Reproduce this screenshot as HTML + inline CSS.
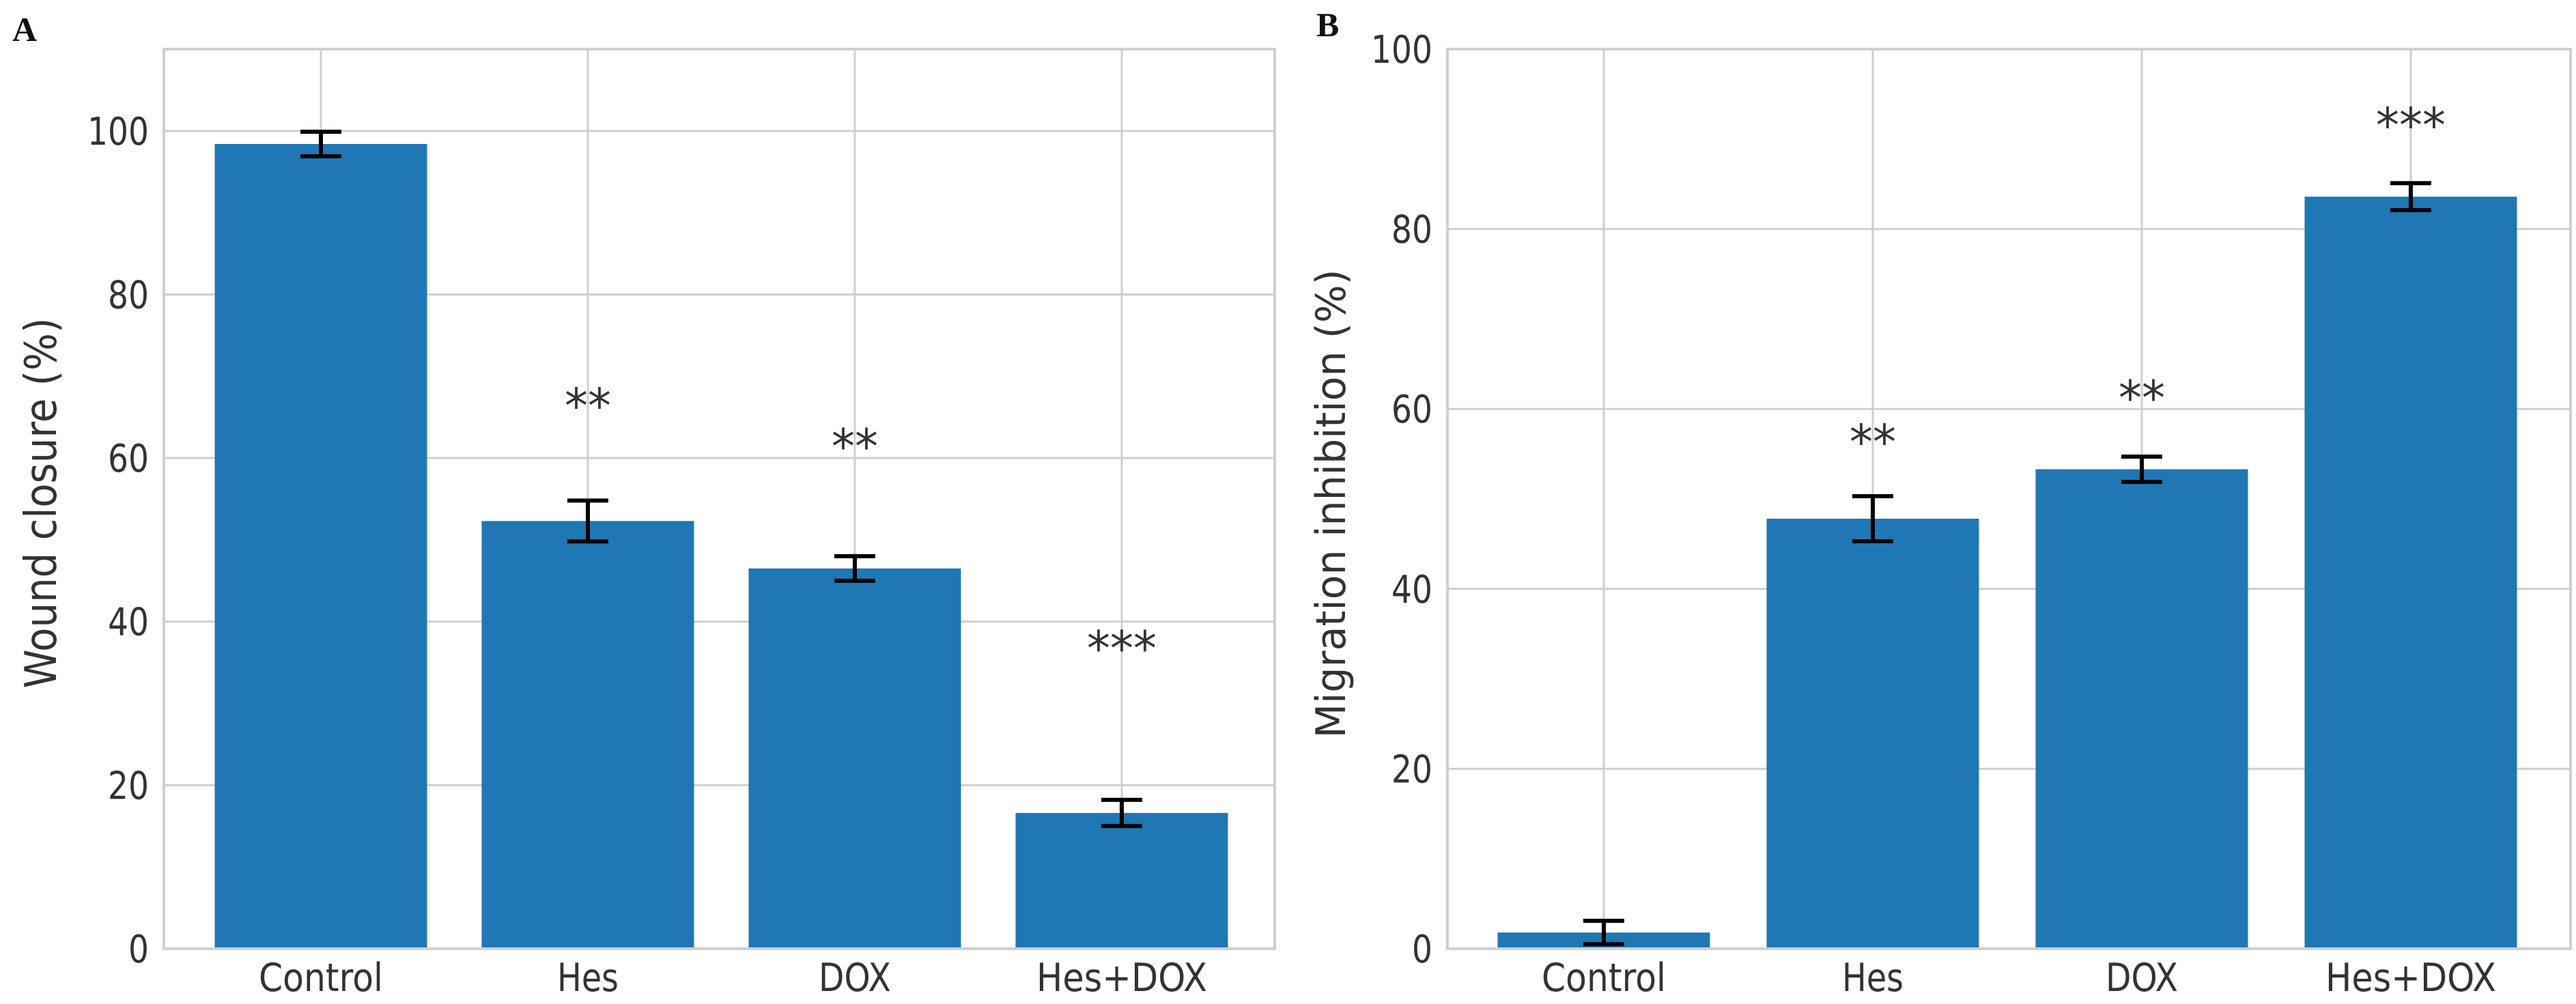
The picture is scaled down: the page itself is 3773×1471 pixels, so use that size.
<!DOCTYPE html>
<html><head><meta charset="utf-8">
<style>
html,body{margin:0;padding:0;background:#fff;}
svg{display:block;}
text{font-family:"DejaVu Sans","Liberation Sans",sans-serif;fill:#333;}
</style></head>
<body>
<svg id="fig" width="3773" height="1471" viewBox="0 0 3773 1471" xmlns="http://www.w3.org/2000/svg">
<text x="18" y="60" style="font-family:'Liberation Serif',serif;font-weight:bold;font-size:50px;fill:#111">A</text>
<text x="1928" y="53" style="font-family:'Liberation Serif',serif;font-weight:bold;font-size:50px;fill:#111">B</text>
</svg>
<script>
const categories = ["Control", "Hes", "DOX", "Hes+DOX"];
const woundValues = [98.4, 52.3, 46.5, 16.6];
const woundErrors = [1.5, 2.5, 1.5, 1.6];
const woundStars = ["", "**", "**", "***"];
const woundStarLevels = [0, 67.7, 62.7, 38.0];
const woundTicks = [0, 20, 40, 60, 80, 100];
const migValues = [1.8, 47.8, 53.3, 83.6];
const migErrors = [1.3, 2.5, 1.4, 1.5];
const migStars = ["", "**", "**", "***"];
const migStarLevels = [0, 57.5, 62.4, 92.7];
const migTicks = [0, 20, 40, 60, 80, 100];

const NS = "http://www.w3.org/2000/svg";
const svg = document.getElementById("fig");
function mk(tag, attrs, parent) {
  const e = document.createElementNS(NS, tag);
  for (const k in attrs) e.setAttribute(k, attrs[k]);
  (parent || svg).appendChild(e);
  return e;
}

function panel(cfg) {
  const g = mk("g", {});
  
  
  const y = v => cfg.y0 - (v - 0) * (cfg.y0 - cfg.yTop) / cfg.yMax;
  const x = i => cfg.c0 + i * cfg.step;
  cfg.ticks.forEach(t => {
    const l = mk("line", {x1: cfg.left, x2: cfg.right, y1: y(t), y2: y(t), stroke: "#cfcfcf", "stroke-width": 3}, g);
    
    
    const tx = mk("text", {x: cfg.left - 22, y: y(t) + 20, "text-anchor": "end", "font-size": 56, textLength: String(t).length * 30, lengthAdjust: "spacingAndGlyphs"}, g);
    tx.textContent = t;
    
    
  });
  categories.forEach((c, i) => {
    const l = mk("line", {x1: x(i), x2: x(i), y1: cfg.yTop, y2: cfg.y0, stroke: "#cfcfcf", "stroke-width": 3}, g);
    
    
  });
  cfg.values.forEach((v, i) => {
    const r = mk("rect", {x: x(i) - cfg.bw / 2, y: y(v), width: cfg.bw, height: cfg.y0 - y(v), fill: "#1f77b4"}, g);
    
    
  });
  cfg.values.forEach((v, i) => {
    const e = cfg.errors[i];
    const eg = mk("g", {stroke: "#000", "stroke-width": 6}, g);
    
    
    const lo = Math.max(0, v - e);
    mk("line", {x1: x(i), x2: x(i), y1: y(v + e), y2: y(lo)}, eg);
    mk("line", {x1: x(i) - 30, x2: x(i) + 30, y1: y(v + e), y2: y(v + e)}, eg);
    if (v - e > 0) mk("line", {x1: x(i) - 30, x2: x(i) + 30, y1: y(v - e), y2: y(v - e)}, eg);
  });
  cfg.stars.forEach((s, i) => {
    if (!s) return;
    const t = mk("text", {x: x(i), y: y(cfg.starLevels[i]) + 40, "text-anchor": "middle", "font-size": 70, textLength: s.length * 34, lengthAdjust: "spacingAndGlyphs"}, g);
    t.textContent = s;
    
    
  });
  const f = mk("rect", {x: cfg.left, y: cfg.yTop, width: cfg.right - cfg.left, height: cfg.y0 - cfg.yTop, fill: "none", stroke: "#cfcfcf", "stroke-width": 4}, g);
  
  
  const lens = [182, 90, 106, 250];
  categories.forEach((c, i) => {
    const t = mk("text", {x: x(i), y: cfg.y0 + 62, "text-anchor": "middle", "font-size": 57, textLength: lens[i], lengthAdjust: "spacingAndGlyphs"}, g);
    t.textContent = c;
    
    
  });
  const yl = mk("text", {x: 0, y: 0, "text-anchor": "middle", "font-size": cfg.ylFont, textLength: cfg.ylLen, lengthAdjust: "spacingAndGlyphs", transform: `translate(${cfg.ylX},${cfg.ylY}) rotate(-90)`}, g);
  yl.textContent = cfg.ylabel;
  
  
}

panel({name: "wound-closure-chart", left: 240, right: 1867, yTop: 72, y0: 1390, yMax: 110,
  c0: 470, step: 391, bw: 311, values: woundValues, errors: woundErrors, stars: woundStars,
  starLevels: woundStarLevels, ticks: woundTicks, ylabel: "Wound closure (%)", ylX: 82, ylY: 737, ylLen: 543, ylFont: 64});
panel({name: "migration-inhibition-chart", left: 2120, right: 3765, yTop: 72, y0: 1390, yMax: 100,
  c0: 2349, step: 394, bw: 311, values: migValues, errors: migErrors, stars: migStars,
  starLevels: migStarLevels, ticks: migTicks, ylabel: "Migration inhibition (%)", ylX: 1970, ylY: 738, ylLen: 687, ylFont: 60});
</script>
</body></html>
